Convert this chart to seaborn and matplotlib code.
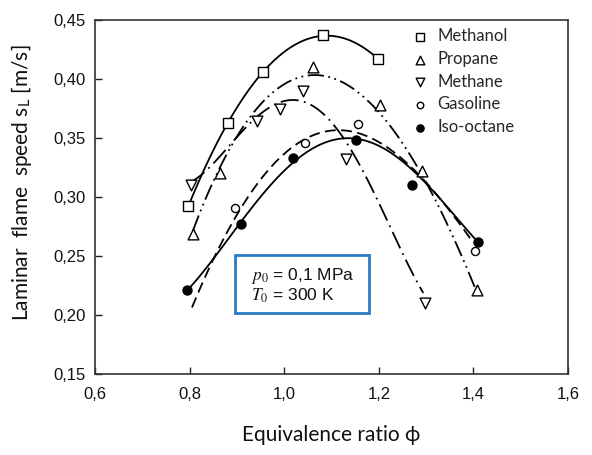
import numpy as np
import pandas as pd
import seaborn as sns
import matplotlib
matplotlib.use('Agg')
from matplotlib import pyplot as plt
from matplotlib.patches import Rectangle

# axis ticks
phi_ticks = [0.6, 0.8, 1.0, 1.2, 1.4, 1.6]
phi_labels = ['0,6', '0,8', '1,0', '1,2', '1,4', '1,6']
sl_ticks = [0.15, 0.20, 0.25, 0.30, 0.35, 0.40, 0.45]
sl_labels = ['0,15', '0,20', '0,25', '0,30', '0,35', '0,40', '0,45']

fuels = ['Methanol', 'Propane', 'Methane', 'Gasoline', 'Iso-octane']

# measured points (markers)
methanol_phi = [0.797, 0.881, 0.956, 1.081, 1.198]
methanol_sl = [0.292, 0.363, 0.406, 0.437, 0.417]
propane_phi = [0.807, 0.864, 1.061, 1.202, 1.291, 1.407]
propane_sl = [0.269, 0.320, 0.410, 0.378, 0.322, 0.221]
methane_phi = [0.802, 0.942, 0.991, 1.040, 1.130, 1.298]
methane_sl = [0.310, 0.364, 0.375, 0.390, 0.332, 0.210]
gasoline_phi = [0.897, 1.044, 1.157, 1.403]
gasoline_sl = [0.291, 0.346, 0.362, 0.254]
isooctane_phi = [0.795, 0.909, 1.018, 1.151, 1.270, 1.409]
isooctane_sl = [0.221, 0.277, 0.333, 0.348, 0.310, 0.262]

# points
methanol_curve_phi = [0.797, 0.881, 0.956, 1.081, 1.198]
methanol_curve_sl = [0.292, 0.363, 0.406, 0.437, 0.417]
propane_curve_phi = [0.807, 0.826, 0.847, 0.885, 0.963, 1.019, 1.055, 1.082,
                     1.139, 1.171, 1.224, 1.287, 1.319, 1.354, 1.403]
propane_curve_sl = [0.268, 0.295, 0.309, 0.3455, 0.380, 0.396, 0.405, 0.405,
                    0.3935, 0.385, 0.360, 0.322, 0.296, 0.269, 0.224]
methane_curve_phi = [0.800, 0.836, 0.900, 0.942, 0.990, 1.035, 1.048, 1.083,
                     1.107, 1.139, 1.164, 1.185, 1.210, 1.241, 1.262, 1.294]
methane_curve_sl = [0.310, 0.327, 0.351, 0.364, 0.377, 0.3845, 0.3836, 0.372,
                    0.358, 0.340, 0.323, 0.306, 0.2875, 0.2607, 0.2438, 0.218]
gasoline_curve_phi = [0.805, 0.829, 0.850, 0.892, 1.044, 1.090, 1.128, 1.181,
                      1.203, 1.230, 1.354, 1.393]
gasoline_curve_sl = [0.205, 0.2297, 0.248, 0.280, 0.346, 0.355, 0.359, 0.3525,
                     0.347, 0.336, 0.285, 0.266]
isooctane_curve_phi = [0.795, 0.850, 0.909, 1.012, 1.048, 1.083, 1.118, 1.135,
                       1.188, 1.224, 1.280, 1.326, 1.407]
isooctane_curve_sl = [0.2203, 0.2494, 0.277, 0.330, 0.3375, 0.344, 0.3477, 0.349,
                      0.347, 0.3404, 0.320, 0.2975, 0.2636]

sns.set_theme(style='white')
plt.rcParams['mathtext.fontset'] = 'stix'
plt.rcParams['font.family'] = ['Liberation Sans', 'DejaVu Sans']

fig = plt.figure(figsize=(5.92, 4.55), dpi=100)
ax = fig.add_axes([0.1605, 0.178, 0.799, 0.778])

styles = {
    'Methanol': dict(marker='s', s=60, fc='white', ls='-', order=2),
    'Propane': dict(marker='^', s=60, fc='white', ls=(0, (9, 2.5, 1, 2.5, 1, 2.5)), order=4),
    'Methane': dict(marker='v', s=60, fc='white', ls=(0, (10, 3, 1, 3)), order=4),
    'Gasoline': dict(marker='o', s=34, fc='white', ls=(0, (6, 3)), order=4),
    'Iso-octane': dict(marker='o', s=42, fc='black', ls='-', order=4),
}
points = {
    'Methanol': (methanol_phi, methanol_sl, methanol_curve_phi, methanol_curve_sl),
    'Propane': (propane_phi, propane_sl, propane_curve_phi, propane_curve_sl),
    'Methane': (methane_phi, methane_sl, methane_curve_phi, methane_curve_sl),
    'Gasoline': (gasoline_phi, gasoline_sl, gasoline_curve_phi, gasoline_curve_sl),
    'Iso-octane': (isooctane_phi, isooctane_sl, isooctane_curve_phi, isooctane_curve_sl),
}

for fuel in fuels:
    px, py, cx, cy = points[fuel]
    st = styles[fuel]
    sns.regplot(x=np.array(cx), y=np.array(cy), order=st['order'], ci=None,
                scatter=False, truncate=True, ax=ax,
                line_kws=dict(color='black', lw=1.3, ls=st['ls'], zorder=2))
    sns.scatterplot(x=px, y=py, marker=st['marker'], s=st['s'], color=st['fc'],
                    edgecolor='black', linewidth=1.0, ax=ax, zorder=3, label=fuel)

ax.set_xlim(0.6, 1.6)
ax.set_ylim(0.15, 0.45)
ax.set_xticks(phi_ticks)
ax.set_xticklabels(phi_labels)
ax.set_yticks(sl_ticks)
ax.set_yticklabels(sl_labels)
ax.tick_params(direction='in', length=5, width=1, colors='#222222',
               labelsize=12, labelcolor='#111111', bottom=True, left=True)
ax.tick_params(axis='y', pad=7)
ax.tick_params(axis='x', pad=9)
for sp in ax.spines.values():
    sp.set_visible(True)
    sp.set_color('#333333')
    sp.set_linewidth(1.2)

lab_font = ['Lato', 'DejaVu Sans']
ax.set_xlabel('Equivalence ratio \u03d5', family=lab_font, fontsize=15, color='#111111')
ax.xaxis.set_label_coords(0.5, -0.145)
ax.set_ylabel('Laminar  flame  speed s$_\\mathregular{L}$ [m/s]', family=lab_font,
              fontsize=15, color='#111111')
ax.yaxis.set_label_coords(-0.13, 0.54)

ax.legend(loc='upper left', bbox_to_anchor=(0.648, 1.005), frameon=False,
          prop=dict(family=lab_font, size=12), handletextpad=0.55, handlelength=1.0,
          labelspacing=0.4, markerscale=0.8, borderaxespad=0.2)

# condition box
ax.add_patch(Rectangle((0.296, 0.172), 0.283, 0.164, transform=ax.transAxes,
                       fill=True, fc='white', ec='#2b7bc4', lw=2, zorder=4))
ax.text(0.330, 0.278, '$p_0$ = 0,1 MPa', transform=ax.transAxes, fontsize=12.5,
        va='center', ha='left', zorder=5, color='#111111')
ax.text(0.330, 0.221, '$T_0$ = 300 K', transform=ax.transAxes, fontsize=12.5,
        va='center', ha='left', zorder=5, color='#111111')

fig.savefig('out.png', dpi=100)
